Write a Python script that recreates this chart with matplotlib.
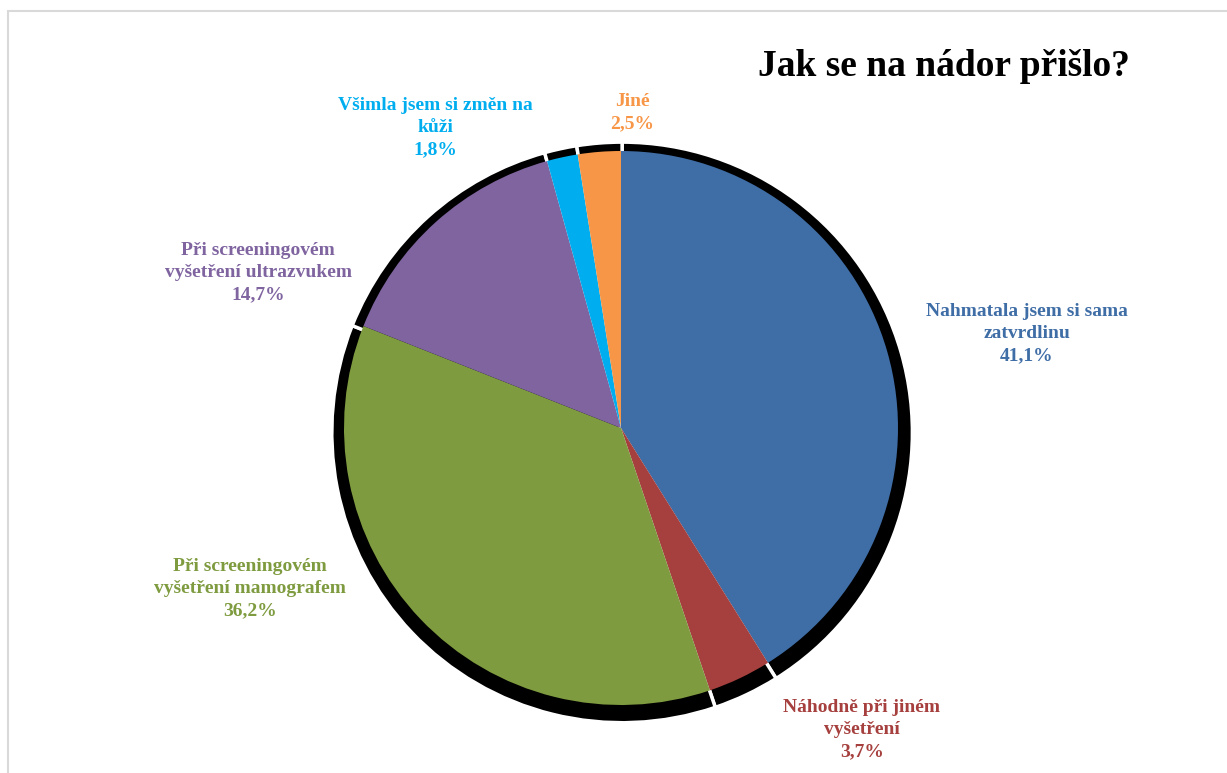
import matplotlib.pyplot as plt
from matplotlib.patches import Rectangle

categories = ['Nahmatala jsem si sama\nzatvrdlinu', 'Náhodně při jiném\nvyšetření',
              'Při screeningovém\nvyšetření mamografem', 'Při screeningovém\nvyšetření ultrazvukem',
              'Všimla jsem si změn na\nkůži', 'Jiné']
values = [41.1, 3.7, 36.2, 14.7, 1.8, 2.5]
colors = ['#3F6DA6', '#A6403E', '#7E9B3F', '#7F64A0', '#00AEEF', '#F79646']

# label centres relative to pie centre, in radii
label_pos = [(1.465, 0.34), (0.87, -1.09), (-1.34, -0.58), (-1.31, 0.56), (-0.67, 1.085), (0.04, 1.14)]

W, H = 1227, 773
cx, cy, r = 621, 428, 277

fig = plt.figure(figsize=(W / 100, H / 100), dpi=100)
ax = fig.add_axes([0, 0, 1, 1])

# shadow
ax.pie(values, colors=['black'] * len(values), startangle=90, counterclock=False,
       radius=1.048, center=(0.004, -0.016), frame=True,
       wedgeprops=dict(edgecolor='white', linewidth=2.5))
ax.pie(values, colors=colors, startangle=90, counterclock=False, radius=1.0,
       center=(0, 0), frame=True, wedgeprops=dict(edgecolor='none'))
ax.set_xlim(-cx / r, (W - cx) / r)
ax.set_ylim(-(H - cy) / r, cy / r)
ax.set_aspect('auto')
ax.axis('off')

for cat, val, col, (lx, ly) in zip(categories, values, colors, label_pos):
    txt = f'{cat}\n{val:.1f}%'.replace('.', ',')
    ax.text(lx, ly, txt, ha='center', va='center', color=col, fontsize=14,
            fontweight='bold', family='Liberation Serif', linespacing=1.4)

fig.text(1130 / W, 1 - 66 / H, 'Jak se na nádor přišlo?', ha='right', va='center',
         fontsize=27, fontweight='bold', family='Liberation Serif')

fig.patches.append(Rectangle((8 / W, -0.1), 1.2, 1 - 11 / H + 0.1, transform=fig.transFigure,
                             fill=False, edgecolor='#D9D9D9', linewidth=1.5))

fig.savefig('out.png', dpi=100)
